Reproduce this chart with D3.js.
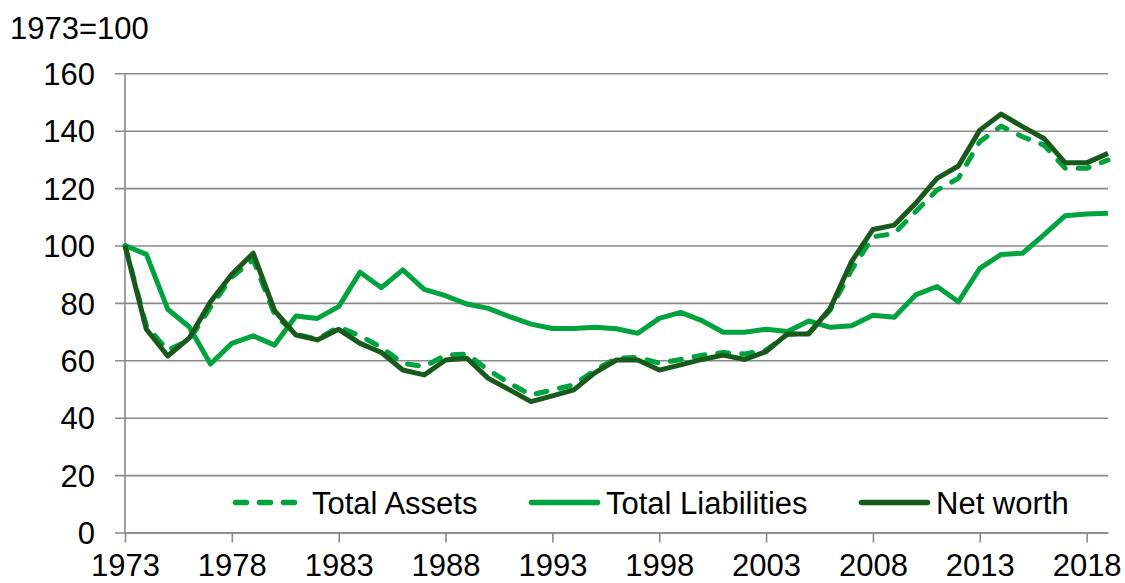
<!DOCTYPE html>
<html>
<head>
<meta charset="utf-8">
<script src="https://cdn.jsdelivr.net/npm/d3@7"></script>
<style>
  body { margin: 0; background: #fff; }
  svg text { font-family: "Liberation Sans", Arial, sans-serif; fill: #000; }
</style>
</head>
<body>
<div id="chart"></div>
<script>
// years 1973..2019, index 1973 = 100
let years = d3.range(1973, 2020);
let tickYears = [1973, 1978, 1983, 1988, 1993, 1998, 2003, 2008, 2013, 2018];
let yTicks = [0, 20, 40, 60, 80, 100, 120, 140, 160];

let totalAssets = [100, 72, 63.5, 67, 78.5, 89, 95, 76, 69, 67.4, 71.6, 68.5, 64.5, 59, 57.8,
                   61.8, 62.2, 56.6, 52, 47.9, 49.7, 51.4, 56.6, 60.7, 61, 59, 60.3, 61.8, 62.7, 62.2,
                   63.6, 69, 69.5, 77.5, 91.5, 103, 104.2, 111.8, 119.3, 123.4, 136.2, 141.6, 137.9, 135, 126.9, 126.9, 129.8];
let totalLiabilities = [100, 96.9, 77.8, 71.7, 58.7, 65.9, 68.5, 65.3, 75.4, 74.6, 78.7, 90.7, 85.3, 91.5, 84.7,
                        82.5, 79.6, 78.1, 75.2, 72.6, 71.1, 71.1, 71.5, 71, 69.4, 74.6, 76.7, 73.8, 69.8, 69.8,
                        70.8, 70, 73.7, 71.5, 72, 75.7, 75, 82.8, 85.7, 80.4, 92, 96.9, 97.3, 103.7, 110.4, 111, 111.2];
let netWorth = [100, 70.8, 61.5, 67.7, 80.4, 90, 97.3, 77.3, 68.8, 67.1, 70.8, 65.9, 62.7, 56.6, 54.9,
                60.1, 60.7, 53.7, 49.7, 45.6, 47.6, 49.7, 55.7, 60.1, 60.1, 56.6, 58.4, 60.3, 61.8, 60.3,
                63, 69.2, 69.2, 78.1, 94.4, 105.6, 107.1, 114.7, 123.4, 127.7, 140.2, 145.8, 141.4, 137.3, 128.8, 128.8, 132.1];

let seriesNames = ["Total Assets", "Total Liabilities", "Net worth"];

let GREEN = "#00a33e";
let DARK = "#185a1c";

let series = [
    { name: seriesNames[0], values: totalAssets, color: GREEN, dash: "11,13", legendX: 233, legendW: 65 },
    { name: seriesNames[1], values: totalLiabilities, color: GREEN, dash: null, legendX: 529, legendW: 71 },
    { name: seriesNames[2], values: netWorth, color: DARK, dash: null, legendX: 859, legendW: 71 }
];

let width = 1125, height = 583;
let plotLeft = 125, plotRight = 1108, plotTop = 73.3, plotBottom = 532.5;

let svg = d3.select("#chart").append("svg")
    .attr("width", width)
    .attr("height", height);

let x = d3.scaleLinear().domain([1973, 2019]).range([plotLeft, plotRight]);
let y = d3.scaleLinear().domain([0, 160]).range([plotBottom, plotTop]);

// gridlines + y labels
let yAxis = svg.append("g")
    .attr("transform", "translate(" + (plotLeft - 10) + ",0)")
    .call(d3.axisLeft(y).tickValues(yTicks).tickSizeInner(-(plotRight - plotLeft + 10)).tickSizeOuter(0).tickPadding(20));
yAxis.select(".domain").remove();
yAxis.selectAll("line").attr("stroke", "#8a8a8a").attr("stroke-width", 1.6);
yAxis.selectAll("text").attr("font-size", "31px").attr("dy", "0.36em");

// vertical axis line
svg.append("line")
    .attr("x1", plotLeft).attr("x2", plotLeft)
    .attr("y1", plotTop).attr("y2", plotBottom)
    .attr("stroke", "#8a8a8a").attr("stroke-width", 1.6);

// x axis
let xAxis = svg.append("g")
    .attr("transform", "translate(0," + plotBottom + ")")
    .call(d3.axisBottom(x).tickValues(tickYears).tickFormat(d3.format("d")).tickSizeInner(10).tickSizeOuter(0).tickPadding(11));
xAxis.select(".domain").attr("stroke", "#8a8a8a").attr("stroke-width", 1.6);
xAxis.selectAll("line").attr("stroke", "#8a8a8a").attr("stroke-width", 1.6);
xAxis.selectAll("text").attr("font-size", "31px");

// unit label
svg.append("text")
    .attr("x", 10).attr("y", 39)
    .attr("font-size", "31px")
    .text("1973=100");

// lines
let line = d3.line()
    .x((d, i) => x(years[i]))
    .y(d => y(d));

series.forEach(s => {
    svg.append("path")
        .datum(s.values)
        .attr("fill", "none")
        .attr("stroke", s.color)
        .attr("stroke-width", 5)
        .attr("stroke-linejoin", "round")
        .attr("stroke-linecap", s.dash ? "round" : "butt")
        .attr("stroke-dasharray", s.dash)
        .attr("d", line);
});

// legend
let legendY = 502.5;
let legend = svg.append("g");
series.forEach(s => {
    legend.append("line")
        .attr("x1", s.legendX + 2.5).attr("x2", s.legendX + s.legendW - 2.5)
        .attr("y1", legendY).attr("y2", legendY)
        .attr("stroke", s.color)
        .attr("stroke-width", 5.5)
        .attr("stroke-linecap", "round")
        .attr("stroke-dasharray", s.dash);
    legend.append("text")
        .attr("x", s.legendX + s.legendW + (s.dash ? 14 : 6))
        .attr("y", legendY + 11)
        .attr("font-size", "31px")
        .text(s.name);
});
</script>
</body>
</html>
